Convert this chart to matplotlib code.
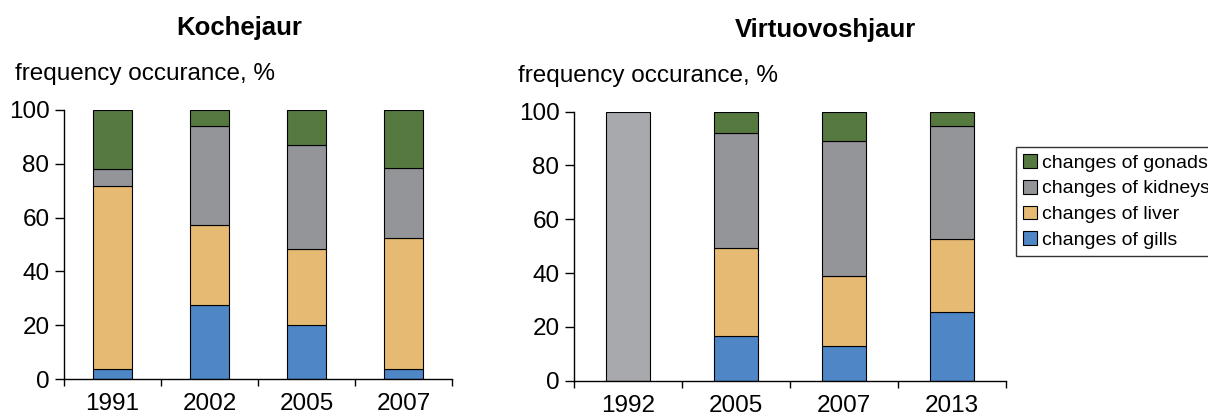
import numpy as np
import matplotlib.pyplot as plt
from matplotlib.patches import Patch

plt.rcParams['font.family'] = ['Liberation Sans', 'DejaVu Sans']

# Kochejaur
years_k = ['1991', '2002', '2005', '2007']
gills_k = [4.0, 27.4, 20.3, 4.0]
liver_k = [67.6, 30.0, 27.9, 48.5]
kidneys_k = [6.5, 36.5, 38.6, 25.9]
gonads_k = [21.9, 6.1, 13.2, 21.6]

# Virtuovoshjaur
years_v = ['1992', '2005', '2007', '2013']
gills_v = [0.0, 16.7, 12.9, 25.7]
liver_v = [0.0, 32.5, 26.0, 26.8]
kidneys_v = [100.0, 42.7, 50.3, 42.2]
gonads_v = [0.0, 8.1, 10.8, 5.3]

labels = ['changes of gills', 'changes of liver', 'changes of kidneys', 'changes of gonads']
colors = ['#4F86C6', '#E6BA72', '#939598', '#55793F']

fig = plt.figure(figsize=(12.08, 4.15), dpi=100)
ax1 = fig.add_axes([64/1208, 1-379.3/415, 388/1208, 269.6/415])
ax2 = fig.add_axes([574/1208, 1-380.7/415, 432/1208, 269/415])


def draw(ax, years, series, first_colors=None):
    x = np.arange(len(years))
    bottom = np.zeros(len(years))
    for i, vals in enumerate(series):
        vals = np.array(vals)
        cols = [colors[i]] * len(years)
        if first_colors is not None and i in first_colors:
            cols = first_colors[i]
        mask = vals > 0
        ax.bar(x[mask], vals[mask], 0.4, bottom=bottom[mask],
               color=np.array(cols)[mask], edgecolor='black', linewidth=0.8)
        bottom += vals
    ax.set_xlim(-0.5, len(years) - 0.5)
    ax.set_ylim(0, 100)
    ax.set_yticks([0, 20, 40, 60, 80, 100])
    ax.set_xticks(x)
    ax.set_xticklabels(years)
    ax.set_xticks(np.arange(len(years) + 1) - 0.5, minor=True)
    ax.tick_params(axis='x', which='major', length=0, pad=10, labelsize=17.5)
    ax.tick_params(axis='x', which='minor', length=5, width=1)
    ax.tick_params(axis='y', length=6.5, width=1, pad=4, labelsize=17.5)
    for s in ['top', 'right']:
        ax.spines[s].set_visible(False)
    for s in ['left', 'bottom']:
        ax.spines[s].set_linewidth(1)


draw(ax1, years_k, [gills_k, liver_k, kidneys_k, gonads_k])
# the 1992 survey bar is drawn in a lighter grey
draw(ax2, years_v, [gills_v, liver_v, kidneys_v, gonads_v],
     first_colors={2: ['#A8A9AD', colors[2], colors[2], colors[2]]})

fig.text(239.5/1208, 1-28/415, 'Kochejaur', ha='center', va='center',
         fontsize=18.5, fontweight='bold')
fig.text(825/1208, 1-30/415, 'Virtuovoshjaur', ha='center', va='center',
         fontsize=18.5, fontweight='bold')
fig.text(15/1208, 1-80/415, 'frequency occurance, %', ha='left', va='baseline',
         fontsize=17.5)
fig.text(518/1208, 1-82/415, 'frequency occurance, %', ha='left', va='baseline',
         fontsize=17.5)

handles = [Patch(facecolor=c, edgecolor='black', linewidth=0.8) for c in colors]
leg = fig.legend(handles[::-1], labels[::-1], loc='upper left',
                 bbox_to_anchor=(1016/1208, 1-147/415), fontsize=14,
                 frameon=True, fancybox=False, borderpad=0.35,
                 handlelength=0.72, handleheight=0.72, handletextpad=0.26,
                 labelspacing=0.42, borderaxespad=0)
leg.get_frame().set_edgecolor('black')
leg.get_frame().set_linewidth(1)

fig.savefig('out.png', dpi=100)
